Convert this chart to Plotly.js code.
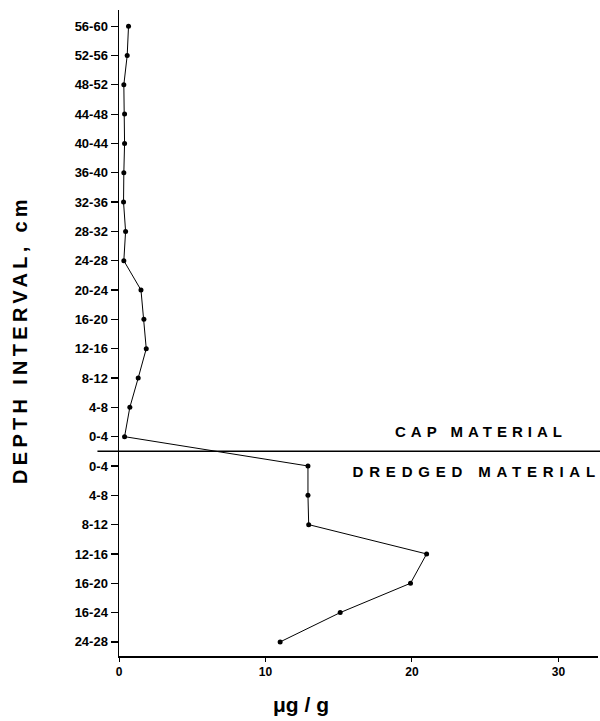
<!DOCTYPE html>
<html>
<head>
<meta charset="utf-8">
<script src="https://cdn.plot.ly/plotly-3.0.1.min.js"></script>
<style>html,body{margin:0;padding:0;background:#fff;}</style>
</head>
<body>
<div id="chart" style="width:600px;height:721px;"></div>
<script>
// Depth interval labels, top to bottom
const capLabels = ["56-60","52-56","48-52","44-48","40-44","36-40","32-36","28-32","24-28","20-24","16-20","12-16","8-12","4-8","0-4"];
const dredgedLabels = ["0-4","4-8","8-12","12-16","16-20","16-24","24-28"];
// Concentration, µg/g
const capValues = [0.65,0.56,0.33,0.38,0.38,0.33,0.31,0.45,0.33,1.5,1.7,1.86,1.31,0.74,0.38];
const dredgedValues = [12.9,12.9,12.95,21.0,19.9,15.1,11.0];
const xTicks = [0,10,20,30];

const allLabels = capLabels.concat(dredgedLabels);
const allValues = capValues.concat(dredgedValues);
const yPos = allLabels.map((_, i) => i);
const sepPos = capLabels.length - 0.5;

const trace = {
  x: allValues,
  y: yPos,
  mode: 'lines+markers',
  line: {color: '#000', width: 1},
  marker: {color: '#000', size: 5},
  hoverinfo: 'none',
  showlegend: false
};

const tickFont = {family: 'Liberation Sans, Arial, sans-serif', size: 13, color: '#000', weight: 'bold'};

const layout = {
  width: 600, height: 721,
  margin: {l: 119, r: 2, t: 10, b: 65},
  paper_bgcolor: '#fff', plot_bgcolor: '#fff',
  xaxis: {
    range: [0, 32.7],
    tickvals: xTicks, ticktext: xTicks.map(String),
    ticks: 'outside', ticklen: 4, tickwidth: 1, tickcolor: '#000',
    showline: true, linecolor: '#000', linewidth: 1.5,
    showgrid: false, zeroline: false,
    tickfont: {family: 'Liberation Sans, Arial, sans-serif', size: 12, color: '#000', weight: 'bold'}
  },
  yaxis: {
    range: [21.48, -0.55],
    tickvals: yPos, ticktext: allLabels,
    ticks: 'outside', ticklen: 7, tickwidth: 1.2, tickcolor: '#000',
    showline: true, linecolor: '#000', linewidth: 1.5,
    showgrid: false, zeroline: false,
    tickfont: tickFont
  },
  shapes: [{
    type: 'line', xref: 'paper', yref: 'y',
    x0: -0.045, x1: 1.01, y0: sepPos, y1: sepPos,
    line: {color: '#000', width: 1.5}
  }],
  annotations: [
    {text: 'CAP MATERIAL', xref: 'paper', yref: 'y', x: 0.755, y: sepPos - 0.68,
     showarrow: false, xanchor: 'center', yanchor: 'middle',
     font: {family: 'Liberation Sans, Arial, sans-serif', size: 15, color: '#000', weight: 'bold'}},
    {text: 'DREDGED MATERIAL', xref: 'paper', yref: 'y', x: 0.748, y: sepPos + 0.68,
     showarrow: false, xanchor: 'center', yanchor: 'middle',
     font: {family: 'Liberation Sans, Arial, sans-serif', size: 15, color: '#000', weight: 'bold'}},
    {text: 'DEPTH INTERVAL, cm', xref: 'paper', yref: 'paper', x: -0.205, y: 0.49,
     showarrow: false, textangle: -90, xanchor: 'center', yanchor: 'middle',
     font: {family: 'Liberation Sans, Arial, sans-serif', size: 20, color: '#000', weight: 'bold'}},
    {text: 'μg / g', xref: 'paper', yref: 'paper', x: 0.38, y: -0.075,
     showarrow: false, xanchor: 'center', yanchor: 'middle',
     font: {family: 'Liberation Sans, Arial, sans-serif', size: 21, color: '#000', weight: 'bold'}}
  ]
};

Plotly.newPlot('chart', [trace], layout, {staticPlot: true}).then(function () {
  const spacing = {'CAP MATERIAL': '5px', 'DREDGED MATERIAL': '5.8px', 'DEPTH INTERVAL, cm': '4.3px'};
  document.querySelectorAll('.annotation-text').forEach(function (t) {
    const s = spacing[t.textContent];
    if (s) t.style.letterSpacing = s;
  });
});
</script>
</body>
</html>
